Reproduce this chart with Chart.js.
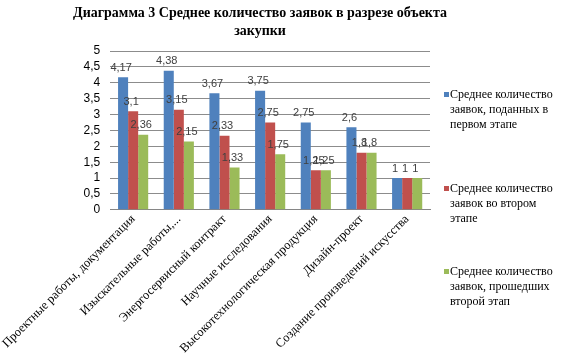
<!DOCTYPE html>
<html>
<head>
<meta charset="utf-8">
<script src="https://cdn.jsdelivr.net/npm/chart.js@4"></script>
<style>
  html, body { margin: 0; padding: 0; background: #fff; }
  #wrap { position: relative; width: 563px; height: 358px; }
  #title { position: absolute; left: 40px; width: 440px; top: 4px; text-align: center; white-space: nowrap;
           font-family: "Liberation Serif", serif; font-weight: bold; font-size: 14px; line-height: 18px; color: #000; }
  #legend { position: absolute; left: 444px; top: 0; font-family: "Liberation Serif", serif; font-size: 12px; color: #000; }
  .item { position: absolute; left: 0; width: 110px; line-height: 15px; padding-left: 6px; }
  .sw { position: absolute; left: 0; top: 5px; width: 5px; height: 5px; }
</style>
</head>
<body>
<div id="wrap">
  <canvas id="chart" width="563" height="358"></canvas>
  <div id="title"></div>
  <div id="legend"></div>
</div>
<script>
// категории и значения серий
const titleLines = ['Диаграмма 3 Среднее количество заявок в разрезе объекта', 'закупки'];
const categories = [
  'Проектные работы, документация',
  'Изыскательные работы,...',
  'Энергосервисный контракт',
  'Научные исследования',
  'Высокотехнологическая продукция',
  'Дизайн-проект',
  'Создание произведений искусства'
];
const seriesNames = [
  'Среднее количество заявок, поданных в первом этапе',
  'Среднее количество заявок во втором этапе',
  'Среднее количество заявок, прошедших второй этап'
];
const firstStage = [4.17, 4.38, 3.67, 3.75, 2.75, 2.6, 1];
const secondStage = [3.1, 3.15, 2.33, 2.75, 1.25, 1.8, 1];
const passedSecond = [2.36, 2.15, 1.33, 1.75, 1.25, 1.8, 1];
const colors = ['#4F81BD', '#C0504D', '#9BBB59'];
const legendTops = [87, 181, 264];

const fmt = v => String(v).replace('.', ',');

// подписи значений над столбиками
const valueLabels = {
  id: 'valueLabels',
  afterDatasetsDraw(chart) {
    const ctx = chart.ctx;
    ctx.save();
    ctx.font = '11px "Liberation Sans", Arial, sans-serif';
    ctx.fillStyle = '#404040';
    ctx.textAlign = 'center';
    ctx.textBaseline = 'bottom';
    chart.data.datasets.forEach((ds, i) => {
      chart.getDatasetMeta(i).data.forEach((bar, j) => {
        ctx.fillText(fmt(ds.data[j]), bar.x - 2, bar.y - 4);
      });
    });
    ctx.restore();
  }
};

const datasets = [firstStage, secondStage, passedSecond].map((d, i) => ({
  label: seriesNames[i],
  data: d,
  backgroundColor: colors[i],
  borderWidth: 0,
  categoryPercentage: 0.66,
  barPercentage: 1
}));

new Chart(document.getElementById('chart'), {
  type: 'bar',
  data: { labels: categories, datasets: datasets },
  options: {
    responsive: false,
    animation: false,
    layout: { padding: { right: 133, left: 0, top: 51, bottom: 0 } },
    plugins: {
      legend: { display: false },
      tooltip: { enabled: false }
    },
    scales: {
      x: {
        grid: { display: false, drawTicks: false },
        border: { color: '#868686' },
        ticks: {
          color: '#000',
          maxRotation: 45,
          minRotation: 45,
          autoSkip: false,
          padding: 2,
          font: { family: '"Liberation Serif", serif', size: 12.5 }
        }
      },
      y: {
        min: 0,
        max: 5,
        grid: { color: '#8c8c8c', drawTicks: false },
        border: { display: false },
        ticks: {
          stepSize: 0.5,
          autoSkip: false,
          color: '#000',
          padding: 10,
          font: { family: '"Liberation Sans", Arial, sans-serif', size: 12 },
          callback: v => fmt(v)
        }
      }
    }
  },
  plugins: [valueLabels]
});

// заголовок
document.getElementById('title').innerHTML = titleLines.join('<br>');

// легенда справа
const legend = document.getElementById('legend');
seriesNames.forEach((name, i) => {
  const item = document.createElement('div');
  item.className = 'item';
  item.style.top = legendTops[i] + 'px';
  const sw = document.createElement('span');
  sw.className = 'sw';
  sw.style.background = colors[i];
  item.appendChild(sw);
  item.appendChild(document.createTextNode(name));
  legend.appendChild(item);
});
</script>
</body>
</html>
